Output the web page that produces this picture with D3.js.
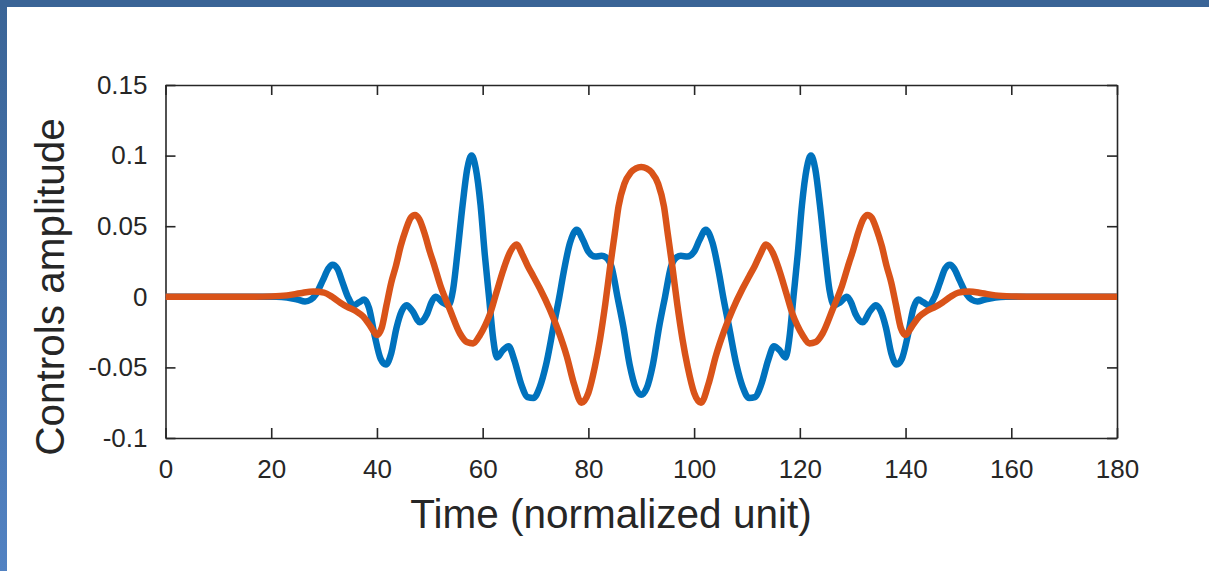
<!DOCTYPE html>
<html>
<head>
<meta charset="utf-8">
<script src="https://cdn.jsdelivr.net/npm/d3@7"></script>
<style>
  html, body { margin: 0; padding: 0; background: #ffffff; }
  svg { display: block; }
</style>
</head>
<body>
<svg id="chart" width="1209" height="571"></svg>
<script>
// ---- data ----
const xTicks = [0, 20, 40, 60, 80, 100, 120, 140, 160, 180];
const yTicks = [-0.1, -0.05, 0, 0.05, 0.1, 0.15];
const yTickLabels = ["-0.1", "-0.05", "0", "0.05", "0.1", "0.15"];
const xLabel = "Time (normalized unit)";
const yLabel = "Controls amplitude";

const blueTime = [0,10,18,21,23,25,26.4,27.5,28.5,29.8,30.8,31.6,32.5,33.5,34.5,35.6,36.6,37.6,38.5,39.6,40.7,41.7,42.7,43.7,44.7,45.6,46.7,48.1,49.5,50.3,51.1,52.4,53.5,54.4,55.2,56.2,57.1,57.9,58.7,59.6,60.4,61.2,62,62.7,63.8,64.9,66,67.3,68.5,69.6,70.8,72,73.4,74.5,75.3,76.5,77.8,79,80,81.3,82.5,83.3,84.4,85.5,86.6,87.8,89,
  90,
  91,92.2,93.4,94.5,95.6,96.7,97.5,98.7,100,101,102.2,103.5,104.7,105.5,106.6,108,109.2,110.4,111.5,112.7,114,115.1,116.2,117.3,118,118.8,119.6,120.4,121.3,122.1,122.9,123.8,124.8,125.6,126.5,127.6,128.9,129.7,130.5,131.9,133.3,134.4,135.3,136.3,137.3,138.3,139.3,140.4,141.5,142.4,143.4,144.4,145.5,146.5,147.5,148.4,149.2,150.2,151.5,152.5,153.6,155,157,159,162,170,180];
const blueAmp = [0,0,0,0,-0.0005,-0.002,-0.0033,-0.002,0.002,0.012,0.02,0.0227,0.02,0.01,0,-0.006,-0.004,-0.002,-0.008,-0.028,-0.044,-0.048,-0.04,-0.022,-0.01,-0.006,-0.01,-0.018,-0.012,-0.004,0,-0.004,-0.006,0.005,0.03,0.065,0.091,0.1,0.091,0.065,0.03,0,-0.03,-0.043,-0.038,-0.035,-0.045,-0.062,-0.071,-0.0717,-0.064,-0.048,-0.021,0,0.017,0.038,0.0475,0.04,0.032,0.0285,0.029,0.028,0.021,0,-0.021,-0.048,-0.065,
  -0.0694,
  -0.065,-0.048,-0.021,0,0.021,0.028,0.029,0.0285,0.032,0.04,0.0475,0.038,0.017,0,-0.021,-0.048,-0.064,-0.0717,-0.071,-0.062,-0.045,-0.035,-0.038,-0.043,-0.03,0,0.03,0.065,0.091,0.1,0.091,0.065,0.03,0.005,-0.006,-0.004,0,-0.004,-0.012,-0.018,-0.01,-0.006,-0.01,-0.022,-0.04,-0.048,-0.044,-0.028,-0.008,-0.002,-0.004,-0.006,0,0.01,0.02,0.0227,0.02,0.012,0.002,-0.002,-0.0033,-0.002,-0.0005,0,0,0,0];

const orangeTime = [0,15,20,23,25.5,28,30,31.5,33,34.3,36,37.4,38.8,40,40.9,41.8,42.7,43.6,44.5,45.5,46.4,47.2,48,49,50,50.7,52,53.8,55.7,57,58.2,59.5,60.5,61.4,62.6,63.9,65.1,66.4,67.5,68.5,69.6,70.8,72.7,74.3,75.9,77.3,78.7,80,81.2,82.2,83.2,84.1,85,85.7,86.8,88,89,
  90,
  91,92,93.2,94.3,95,95.9,96.8,97.8,98.8,100,101.3,102.7,104.1,105.7,107.3,109.2,110.4,111.5,112.5,113.6,114.9,116.1,117.4,118.6,119.5,120.5,121.8,123,124.3,126.2,128,129.3,130,131,132,132.8,133.6,134.5,135.5,136.4,137.3,138.2,139.1,140,141.2,142.6,144,145.7,147,148.5,150,152,154.5,157,160,165,180];
const orangeAmp = [0,0,0.0003,0.001,0.0025,0.0038,0.003,0,-0.004,-0.007,-0.01,-0.014,-0.021,-0.027,-0.022,-0.006,0.01,0.022,0.036,0.048,0.056,0.058,0.055,0.045,0.032,0.024,0.008,-0.009,-0.026,-0.032,-0.033,-0.027,-0.02,-0.012,0.003,0.019,0.031,0.037,0.03,0.022,0.0144,0.006,-0.009,-0.024,-0.042,-0.062,-0.075,-0.068,-0.05,-0.03,-0.005,0.021,0.045,0.064,0.08,0.088,0.091,
  0.092,
  0.091,0.088,0.08,0.064,0.045,0.021,-0.005,-0.03,-0.05,-0.068,-0.075,-0.062,-0.042,-0.024,-0.009,0.006,0.0144,0.022,0.03,0.037,0.031,0.019,0.003,-0.012,-0.02,-0.027,-0.033,-0.032,-0.026,-0.009,0.008,0.024,0.032,0.045,0.055,0.058,0.056,0.048,0.036,0.022,0.01,-0.006,-0.022,-0.027,-0.021,-0.014,-0.01,-0.007,-0.004,0,0.003,0.0038,0.0025,0.001,0.0003,0,0];

// ---- layout ----
const svg = d3.select("#chart");
const W = 1209, H = 571;
const plot = { left: 165.5, right: 1117, top: 85, bottom: 438 };
const axisColor = "#262626";
const tickLen = 10;

// slide-like background frame
const defs = svg.append("defs");
const grad = defs.append("linearGradient").attr("id", "sideGrad")
  .attr("x1", 0).attr("y1", 0).attr("x2", 0).attr("y2", 1);
grad.append("stop").attr("offset", "0%").attr("stop-color", "#3a6496");
grad.append("stop").attr("offset", "100%").attr("stop-color", "#5282c2");
svg.append("rect").attr("x", 0).attr("y", 0).attr("width", W).attr("height", H).attr("fill", "#ffffff");
svg.append("rect").attr("x", 0).attr("y", 0).attr("width", 7).attr("height", H).attr("fill", "url(#sideGrad)");
svg.append("rect").attr("x", 0).attr("y", 0).attr("width", W).attr("height", 7).attr("fill", "#3a6496");

const x = d3.scaleLinear().domain([0, 180]).range([plot.left, plot.right]);
const y = d3.scaleLinear().domain([-0.1, 0.15]).range([plot.bottom, plot.top]);

const font = "'Liberation Sans', Arial, Helvetica, sans-serif";

// axes (box with inward ticks)
const gBottom = svg.append("g").attr("transform", `translate(0,${plot.bottom})`)
  .call(d3.axisBottom(x).tickValues(xTicks).tickSizeInner(-tickLen).tickSizeOuter(0).tickPadding(22));
const gTop = svg.append("g").attr("transform", `translate(0,${plot.top})`)
  .call(d3.axisTop(x).tickValues(xTicks).tickSizeInner(-tickLen).tickSizeOuter(0).tickFormat(""));
const gLeft = svg.append("g").attr("transform", `translate(${plot.left},0)`)
  .call(d3.axisLeft(y).tickValues(yTicks).tickSizeInner(-tickLen).tickSizeOuter(0).tickPadding(18)
    .tickFormat((d, i) => yTickLabels[i]));
const gRight = svg.append("g").attr("transform", `translate(${plot.right},0)`)
  .call(d3.axisRight(y).tickValues(yTicks).tickSizeInner(-tickLen).tickSizeOuter(0).tickFormat(""));

[gBottom, gTop, gLeft, gRight].forEach(g => {
  g.select(".domain").attr("stroke", axisColor).attr("stroke-width", 1.6);
  g.selectAll(".tick line").attr("stroke", axisColor).attr("stroke-width", 1.6);
  g.selectAll(".tick text").attr("fill", axisColor).style("font-family", font).style("font-size", "26px");
});

// series lines
const line = d3.line().x(d => x(d[0])).y(d => y(d[1])).curve(d3.curveMonotoneX);
const blueData = blueTime.map((t, i) => [t, blueAmp[i]]);
const orangeData = orangeTime.map((t, i) => [t, orangeAmp[i]]);

svg.append("path").datum(blueData).attr("d", line)
  .attr("fill", "none").attr("stroke", "#0072BD").attr("stroke-width", 6.5)
  .attr("stroke-linejoin", "round").attr("stroke-linecap", "butt");
svg.append("path").datum(orangeData).attr("d", line)
  .attr("fill", "none").attr("stroke", "#D95319").attr("stroke-width", 6.5)
  .attr("stroke-linejoin", "round").attr("stroke-linecap", "butt");

// axis labels
svg.append("text").attr("x", 611).attr("y", 528)
  .attr("text-anchor", "middle").attr("fill", axisColor)
  .style("font-family", font).style("font-size", "40.5px").text(xLabel);
svg.append("text").attr("transform", "translate(64,287) rotate(-90)")
  .attr("text-anchor", "middle").attr("fill", axisColor)
  .style("font-family", font).style("font-size", "40.5px").text(yLabel);
</script>
</body>
</html>
